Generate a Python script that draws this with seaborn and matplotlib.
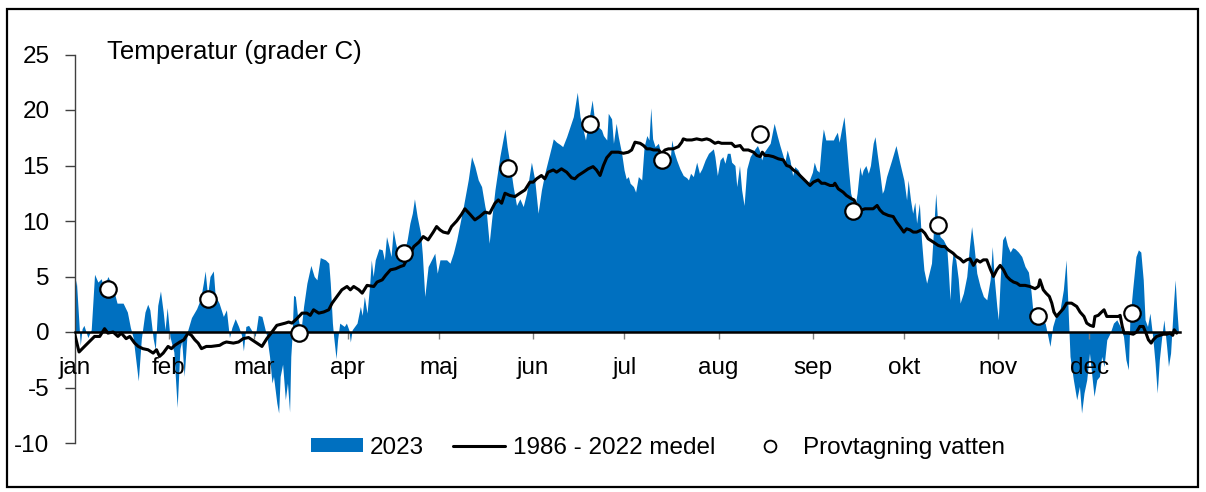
import numpy as np
import pandas as pd
import matplotlib.pyplot as plt
from matplotlib.patches import Patch, Rectangle
from matplotlib.lines import Line2D
import seaborn as sns

sns.set_style("white")
plt.rcParams['font.family'] = ['Liberation Sans', 'DejaVu Sans']
plt.rcParams['axes.unicode_minus'] = False
plt.rcParams['text.color'] = 'black'

# day of year (0 = 1 jan), temperature 2023
temp_2023 = [
    (0, 3.5), (0.6, 4.7), (1.9, -1.2), (2.5, 0.3), (3.1, 0.6), (4.4, -0.5), (5.5, 0.2), (6.6, 5.2),
    (7.7, 4.5), (8.8, 4.8), (9.6, 4.0), (11, 5.0), (12.7, 4.0), (14, 2.6), (16, 2.6), (17.4, 1.8),
    (18.4, 0.4), (19.3, -0.5), (21, -4.4), (22, -0.6), (23.2, 1.8), (24.1, 2.5), (24.8, 2.0),
    (25.9, -0.6), (26.6, -1.6), (27.4, 2.4), (28.3, 3.7), (29.2, 1.8), (29.8, 0.2), (30.5, 2.2),
    (31.4, -0.4), (32.7, -1.8), (33.8, -6.8), (34.7, -1.5), (35.3, -0.8), (36.1, -4.0), (37.1, 0.0),
    (38.5, 1.3), (40.2, 2.1), (41.5, 3.0), (42.4, 4.4), (43, 5.5), (43.8, 3.3), (44.6, 5.0),
    (45.7, 5.5), (46.3, 3.3), (47.6, 2.6), (49, 1.4), (50, 2.0), (51, -0.5), (51.8, 0.4), (52.9, 1.2),
    (54, 0.5), (55, -0.3), (55.6, -1.7), (56.4, 0.5), (57.3, 0.6), (59.5, -0.4), (60.5, 1.5),
    (61.7, 1.4), (63.3, -0.4), (64.2, -2.2), (65, -4.6), (65.5, -4.0), (66.6, -6.4), (67.2, -7.3),
    (67.7, -4.0), (68.5, -2.9), (69.4, -6.1), (70.1, -4.6), (70.8, -7.2), (71.2, -2.2), (71.6, -0.4),
    (72.1, 3.3), (72.7, 3.2), (73.4, 1.5), (74.5, 0.0), (75.4, 2.3), (76.5, 4.4), (77.8, 6.0),
    (78.9, 5.0), (79.8, 4.7), (80.9, 6.7), (82.6, 6.5), (83.7, 6.2), (84.2, 4.4), (84.9, 0.8),
    (85.3, -0.4), (86.1, -2.4), (86.6, -0.7), (87.3, 0.8), (88.8, 0.5), (89.5, 0.8), (90.3, 0.2),
    (90.8, -0.9), (91.4, 0.2), (93, 0.8), (94.1, 2.3), (94.7, 1.5), (95.4, 3.2), (96.3, 1.7),
    (97.2, 4.4), (97.7, 6.5), (98.3, 5.0), (99, 6.5), (100.2, 7.5), (101.3, 7.4), (102, 6.5),
    (102.7, 8.6), (103.5, 7.7), (104.2, 6.8), (104.9, 9.2), (105.7, 8.0), (106.8, 6.8), (107.3, 8.0),
    (108.4, 7.1), (109.5, 8.3), (110.4, 9.8), (111.2, 10.7), (111.9, 12.0), (112.8, 10.4),
    (113.9, 8.9), (114.5, 7.0), (115.3, 3.2), (116.4, 5.9), (118.6, 7.1), (119.4, 5.3), (120.3, 6.5),
    (122.5, 6.5), (123.6, 6.2), (124.7, 7.1), (125.8, 8.3), (126.9, 9.8), (128, 11.3), (129.6, 13.7),
    (130.7, 15.8), (131.8, 14.9), (132.9, 13.7), (134, 13.1), (135.1, 11.3), (135.6, 10.7),
    (136.5, 8.0), (137.3, 10.1), (138.4, 12.8), (140, 15.8), (141.7, 18.3), (142.4, 16.7),
    (143.3, 15.2), (144.4, 13.1), (145.5, 11.4), (146.6, 12.0), (147.7, 11.3), (148.8, 12.5),
    (150.4, 15.3), (151.5, 13.7), (152.6, 10.7), (153.7, 12.8), (154.8, 14.3), (155.9, 15.5),
    (157, 16.7), (157.6, 17.4), (158.7, 17.1), (159.8, 16.9), (160.7, 16.7), (162, 17.6),
    (163.1, 18.5), (164.2, 19.4), (165.5, 21.6), (166.4, 19.4), (167.2, 18.5), (168.2, 17.3),
    (169.1, 18.8), (170.4, 20.9), (171.3, 18.8), (172.4, 18.5), (173.5, 18.2), (174.1, 17.7),
    (175.2, 17.3), (175.7, 19.7), (176.8, 19.2), (177.4, 17.0), (178.3, 18.8), (179, 17.6),
    (180.1, 16.1), (180.9, 14.6), (181.6, 13.8), (182.3, 14.0), (182.9, 13.4), (184, 13.1),
    (184.7, 12.6), (185.6, 14.0), (186.7, 13.7), (187.5, 16.7), (188.4, 17.7), (189.1, 17.3),
    (189.7, 20.2), (190.3, 17.4), (191.1, 16.7), (192.2, 17.0), (193.3, 15.8), (194.4, 15.8),
    (195.2, 16.1), (196, 15.2), (196.6, 17.3), (197.4, 16.2), (198.2, 15.5), (199.3, 14.7),
    (200.4, 14.1), (201.5, 13.9), (202.1, 13.7), (202.8, 14.3), (203.7, 14.0), (204.8, 15.3),
    (205.7, 14.3), (206.5, 14.7), (207.6, 15.5), (208.7, 16.1), (210.3, 16.5), (210.8, 15.8),
    (211.6, 14.1), (212.5, 15.5), (213.4, 15.8), (214.1, 15.2), (214.9, 16.1), (215.8, 16.1),
    (216.3, 15.3), (217.4, 15.0), (218, 13.1), (218.9, 15.0), (219.6, 12.8), (220.4, 11.4),
    (221.3, 14.7), (222.4, 15.8), (224, 16.5), (224.8, 16.8), (225.4, 16.4), (226.2, 15.5),
    (227, 16.2), (229, 17.0), (230.3, 18.8), (231.4, 17.6), (232.2, 16.8), (233.3, 15.8),
    (233.8, 15.3), (234.6, 16.4), (235.5, 15.5), (236.4, 14.1), (237.1, 14.9), (238.2, 14.6),
    (239.3, 14.0), (240.4, 13.5), (241.5, 13.4), (242.9, 14.4), (243.5, 15.3), (244.3, 14.6),
    (245.1, 14.4), (245.9, 17.0), (246.5, 18.3), (247.3, 17.3), (249.8, 17.3), (250.3, 17.6),
    (251.1, 18.0), (251.7, 17.1), (252.5, 18.3), (253.3, 19.4), (253.9, 17.6), (254.7, 14.9),
    (255.5, 12.5), (256.1, 11.9), (256.9, 11.3), (257.6, 12.5), (258.5, 14.9), (259.1, 14.1),
    (259.6, 14.6), (260.5, 15.0), (261.3, 14.3), (262.0, 15.0), (262.9, 17.0), (263.5, 17.6),
    (264.2, 16.1), (265.1, 14.3), (265.9, 12.5), (266.4, 12.8), (267.3, 14.0), (269, 15.5),
    (270.4, 16.8), (271.7, 15.2), (273, 13.7), (273.9, 11.9), (274.4, 13.7), (275.2, 11.9),
    (275.9, 10.7), (276.6, 11.7), (277.2, 9.8), (278.1, 11.6), (278.8, 8.3), (279.6, 5.6),
    (280.5, 4.4), (281.3, 5.3), (282.1, 6.2), (282.9, 9.8), (283.5, 12.5), (284, 10.4), (284.9, 8.6),
    (286, 8.3), (287.1, 7.7), (287.6, 5.7), (288.2, 2.9), (288.7, 5.9), (289.2, 7.1), (290.1, 6.5),
    (290.9, 4.8), (291.5, 2.6), (292.6, 3.5), (293.7, 5.0), (294.6, 7.7), (295.3, 9.5), (296.1, 7.7),
    (297, 5.3), (298.1, 4.1), (299.2, 3.2), (300.3, 2.9), (301.4, 4.7), (302.1, 7.7), (302.8, 4.7),
    (303.6, 2.3), (304.1, 1.1), (304.7, 4.7), (305.5, 8.3), (306.3, 8.7), (307.1, 7.8), (308, 7.2),
    (308.8, 7.6), (309.6, 7.5), (310.7, 7.2), (311.8, 6.8), (312.9, 5.9), (314, 5.4), (314.8, 3.8),
    (315.4, 2.1), (316.2, 1.7), (317.8, 1.1), (319.5, 0.8), (320.2, -0.1), (321.1, -1.3), (322, 0.5),
    (323.3, 1.7), (324.4, 2.0), (325.5, 3.8), (326.4, 6.5), (326.8, 3.8), (327.7, -2.2),
    (328.8, -4.3), (329.9, -6.1), (330.8, -4.9), (331.5, -7.3), (332.3, -5.5), (333.2, -4.3),
    (334.1, -1.9), (334.8, -3.7), (335.6, -5.8), (336.5, -4.3), (337.4, -4.0), (338.1, -2.2),
    (338.9, -3.1), (339.8, -0.7), (340.9, -0.1), (342, 0.8), (343.1, 1.1), (344.2, 0.5),
    (345.3, -0.4), (346.1, -2.5), (346.9, -3.4), (347.4, 1.1), (348.3, 3.8), (349.4, 6.8),
    (350.2, 7.4), (351, 7.2), (351.8, 4.7), (352.4, 1.1), (353.2, 0.5), (354, 1.7), (354.9, -0.4),
    (355.7, -2.8), (356.4, -5.5), (357.1, -2.5), (357.9, -0.4), (358.6, 1.1), (359.5, -1.3),
    (360.1, -3.1), (360.8, -1.9), (361.7, 2.3), (362.3, 4.7), (362.8, 2.3), (363.4, 0.0),
]

# 1986 - 2022 medel
temp_mean = [
    (0, -0.1), (1.5, -1.8), (2.2, -1.6), (3.3, -1.3), (5.5, -0.7), (6.6, -0.4), (8.3, -0.4),
    (9.9, 0.3), (11, -0.1), (12.7, 0.0), (14.3, -0.4), (15.4, -0.1), (17, -0.6), (18.2, -0.4),
    (19.8, -1.0), (21, -1.3), (22.5, -1.5), (24.2, -1.6), (25.9, -1.9), (27, -1.6), (28, -2.2),
    (29.2, -1.9), (30.8, -1.3), (31.9, -1.5), (33, -1.2), (34.7, -0.9), (36, -0.7), (37.4, -0.1),
    (38.5, -0.3), (39.6, -0.7), (40.7, -1.0), (41.8, -1.5), (43.4, -1.3), (45, -1.3), (47.8, -1.2),
    (49, -1.0), (50, -0.9), (52.3, -1.0), (54, -0.9), (55.5, -0.6), (57.3, -0.5), (59.5, -0.9),
    (61.7, -1.3), (63.3, -0.6), (65, 0.0), (66.6, 0.6), (69.4, 0.8), (70.5, 0.9), (71.6, 0.8),
    (73.2, 1.2), (74.9, 1.7), (76.5, 1.7), (77.6, 1.5), (78.7, 2.0), (80.4, 1.7), (82, 1.8),
    (83.7, 2.0), (84.8, 2.6), (86.4, 3.2), (88, 3.8), (89.7, 4.1), (90.8, 3.8), (91.9, 4.1),
    (93.6, 3.8), (94.7, 3.5), (96.3, 4.2), (98.5, 4.1), (99.6, 4.5), (101.3, 4.7), (102.4, 5.1),
    (104, 5.6), (105.7, 5.7), (107.3, 5.9), (108.4, 6.0), (109.5, 6.6), (110.6, 7.1), (111.7, 7.7),
    (113.4, 8.1), (114.8, 8.6), (116.4, 8.3), (118.1, 9.0), (119.2, 9.5), (120.3, 9.2), (121.4, 9.0),
    (123, 8.9), (124.1, 9.5), (125.8, 10.0), (127.4, 10.6), (128.5, 11.1), (130.2, 10.6),
    (131.8, 10.1), (133.4, 10.4), (135.1, 10.8), (136.7, 10.7), (138.4, 11.6), (139.5, 11.9),
    (140.6, 11.6), (141.7, 12.5), (143.3, 12.3), (145, 12.2), (146.6, 12.5), (148.3, 12.8),
    (149.9, 13.5), (151, 13.5), (152.1, 13.8), (153.7, 14.1), (154.8, 13.8), (155.9, 14.4),
    (157.6, 14.6), (158.7, 14.4), (160.3, 14.7), (162, 14.4), (163.6, 13.9), (164.7, 13.8),
    (165.8, 14.1), (167.5, 14.4), (169.1, 14.7), (170.7, 14.9), (171.8, 14.6), (173, 14.1),
    (174.1, 15.0), (175.2, 15.7), (176.8, 16.2), (179, 16.2), (180.7, 16.1), (182.3, 16.2),
    (183.4, 16.4), (184.5, 17.1), (186.2, 17.0), (187.3, 16.8), (188.4, 16.5), (189.5, 16.5),
    (190.6, 16.4), (192.2, 16.4), (193.3, 16.1), (194.4, 16.4), (195.5, 16.5), (197.1, 16.5),
    (198.8, 16.7), (199.9, 17.1), (200.4, 17.4), (201.5, 17.3), (203.2, 17.3), (204.8, 17.4),
    (206.5, 17.3), (208.1, 17.4), (209.2, 17.3), (210.8, 17.0), (211.9, 17.1), (213, 17.0),
    (214.7, 17.0), (216.3, 17.0), (217.4, 16.7), (219.1, 16.8), (220.2, 16.4), (221.8, 16.4),
    (223.5, 16.2), (224.6, 15.9), (225.7, 15.8), (226.4, 16.2), (227.3, 15.9), (228.4, 15.9),
    (230, 15.8), (231.7, 15.6), (233.3, 15.5), (234.4, 15.0), (235.5, 14.9), (236.6, 14.6),
    (237.7, 14.4), (238.8, 14.1), (239.9, 13.8), (241, 13.5), (242.1, 13.2), (243.2, 13.5),
    (244.8, 13.7), (245.9, 13.4), (247, 13.4), (248.7, 13.2), (249.8, 13.2), (250.3, 13.4),
    (251.4, 12.9), (253, 12.6), (254.1, 12.3), (255.8, 12.0), (256.6, 11.9), (257.4, 11.4),
    (258.5, 10.7), (259.1, 11.0), (260.2, 11.1), (261.3, 11.1), (262.9, 11.1), (264.2, 11.4),
    (265.1, 11.0), (266.2, 10.7), (267.9, 10.5), (269.5, 10.4), (270.6, 9.9), (271.7, 9.5),
    (273, 9.0), (273.9, 9.3), (275, 9.2), (276.1, 9.0), (277.2, 9.0), (278.8, 9.2), (279.9, 8.9),
    (281, 8.4), (282.7, 8.1), (284.3, 7.8), (285.4, 7.7), (286.5, 7.7), (287.6, 7.4), (289.2, 7.1),
    (290.3, 6.8), (291.5, 6.6), (292.6, 6.3), (293.7, 6.5), (294.8, 6.6), (295.9, 6.0), (297, 6.5),
    (298.1, 6.3), (299.2, 6.5), (300.3, 6.5), (301.4, 5.7), (302.5, 5.0), (303.6, 5.6), (304.7, 6.0),
    (305.8, 5.6), (306.9, 5.0), (308, 4.7), (309.1, 4.5), (310.2, 4.4), (311.2, 4.2), (312.9, 4.2),
    (314.5, 4.1), (316.2, 3.9), (317.3, 4.1), (317.8, 4.7), (318.9, 3.8), (319.8, 3.5), (320.9, 3.2),
    (321.7, 2.6), (322.4, 1.8), (323.3, 1.4), (324.2, 1.7), (325.5, 2.1), (326.6, 2.6), (328.2, 2.6),
    (329.9, 2.3), (331, 1.8), (332.3, 1.4), (333.2, 0.8), (334.3, 0.6), (335.4, 0.5), (335.9, 1.4),
    (337, 1.5), (338.1, 1.8), (338.9, 2.0), (339.8, 1.4), (340.9, 1.4), (342.5, 1.4), (343.6, 1.4),
    (344.2, 1.5), (344.9, 0.5), (345.5, -0.1), (346.9, -0.1), (348.5, -0.2), (349.6, 0.0),
    (350.7, 0.5), (351.8, 0.5), (352.7, -0.1), (353.5, -0.7), (354.4, -1.0), (355.1, -0.7),
    (356.2, -0.4), (357.3, -0.3), (358.4, -0.2), (359.5, -0.2), (360.6, -0.1), (361.5, -0.3),
    (362, 0.2), (362.8, -0.1),
]

# Provtagning vatten
sample_day = [11.0, 43.9, 73.9, 108.5, 142.7, 169.7, 193.4, 225.6, 256.3, 284.2, 317.1, 348.1]
sample_temp = [3.9, 3.0, -0.1, 7.1, 14.8, 18.7, 15.5, 17.8, 10.9, 9.6, 1.4, 1.7]

months = ['jan', 'feb', 'mar', 'apr', 'maj', 'jun', 'jul', 'aug', 'sep', 'okt', 'nov', 'dec']
month_start = [0, 31, 59, 90, 120, 151, 181, 212, 243, 273, 304, 334]

blue = '#0070C0'
fs = 17.5

d23 = pd.DataFrame(temp_2023, columns=['dag', 'temp'])
dmean = pd.DataFrame(temp_mean, columns=['dag', 'temp'])
dsamp = pd.DataFrame({'dag': sample_day, 'temp': sample_temp})

W, H = 1206, 492
fig = plt.figure(figsize=(W / 100, H / 100), dpi=100)
ax = fig.add_axes([74.5 / W, 1 - 443 / H, (1180.3 - 74.5) / W, (443 - 54.5) / H])
ax.set_axisbelow(False)

ax.fill_between(d23['dag'], 0, d23['temp'], color=blue, lw=0, zorder=1)
sns.lineplot(data=dmean, x='dag', y='temp', color='black', lw=2.2, ax=ax, zorder=4)
sns.scatterplot(data=dsamp, x='dag', y='temp', s=140, color='white', edgecolor='black',
                linewidth=1.6, ax=ax, zorder=5)

ax.set_xlim(0, 364)
ax.set_ylim(-10, 25)
ax.set_xlabel('')
ax.set_ylabel('')

for s in ['top', 'right']:
    ax.spines[s].set_visible(False)
ax.spines['left'].set_color('#404040')
ax.spines['left'].set_linewidth(1)
ax.spines['bottom'].set_position(('data', 0))
ax.spines['bottom'].set_color('black')
ax.spines['bottom'].set_linewidth(1.8)
ax.spines['bottom'].set_zorder(3)

ax.set_yticks(range(-10, 26, 5))
ax.tick_params(axis='y', direction='out', length=7, width=1, color='#404040',
               pad=11, labelsize=fs, labelcolor='black', left=True)
ax.set_xticks(month_start)
ax.set_xticklabels(months)
ax.tick_params(axis='x', direction='out', length=5, width=1, color='#808080',
               pad=13, labelsize=fs, labelcolor='black', bottom=True)

fig.text(107 / W, 1 - 52 / H, 'Temperatur (grader C)', ha='left', va='center',
         fontsize=18.5, color='black')

handles = [
    Patch(facecolor=blue, edgecolor='none'),
    Line2D([], [], color='black', lw=2.2),
    Line2D([], [], ls='none', marker='o', markersize=8.5, markerfacecolor='white',
           markeredgecolor='black', markeredgewidth=1.3),
]
fig.legend(handles, ['2023', '1986 - 2022 medel', 'Provtagning vatten'], ncol=3,
           loc='center', bbox_to_anchor=(658 / W, 1 - 448 / H), frameon=False,
           fontsize=fs, handlelength=2.14, handletextpad=0.3, columnspacing=1.2,
           handleheight=0.5, labelcolor='black')

fig.patches.append(Rectangle((7 / W, 1 - 487 / H), 1191 / W, 478 / H, transform=fig.transFigure,
                             fill=False, edgecolor='black', lw=1.6))

fig.savefig('out.png', dpi=100)
